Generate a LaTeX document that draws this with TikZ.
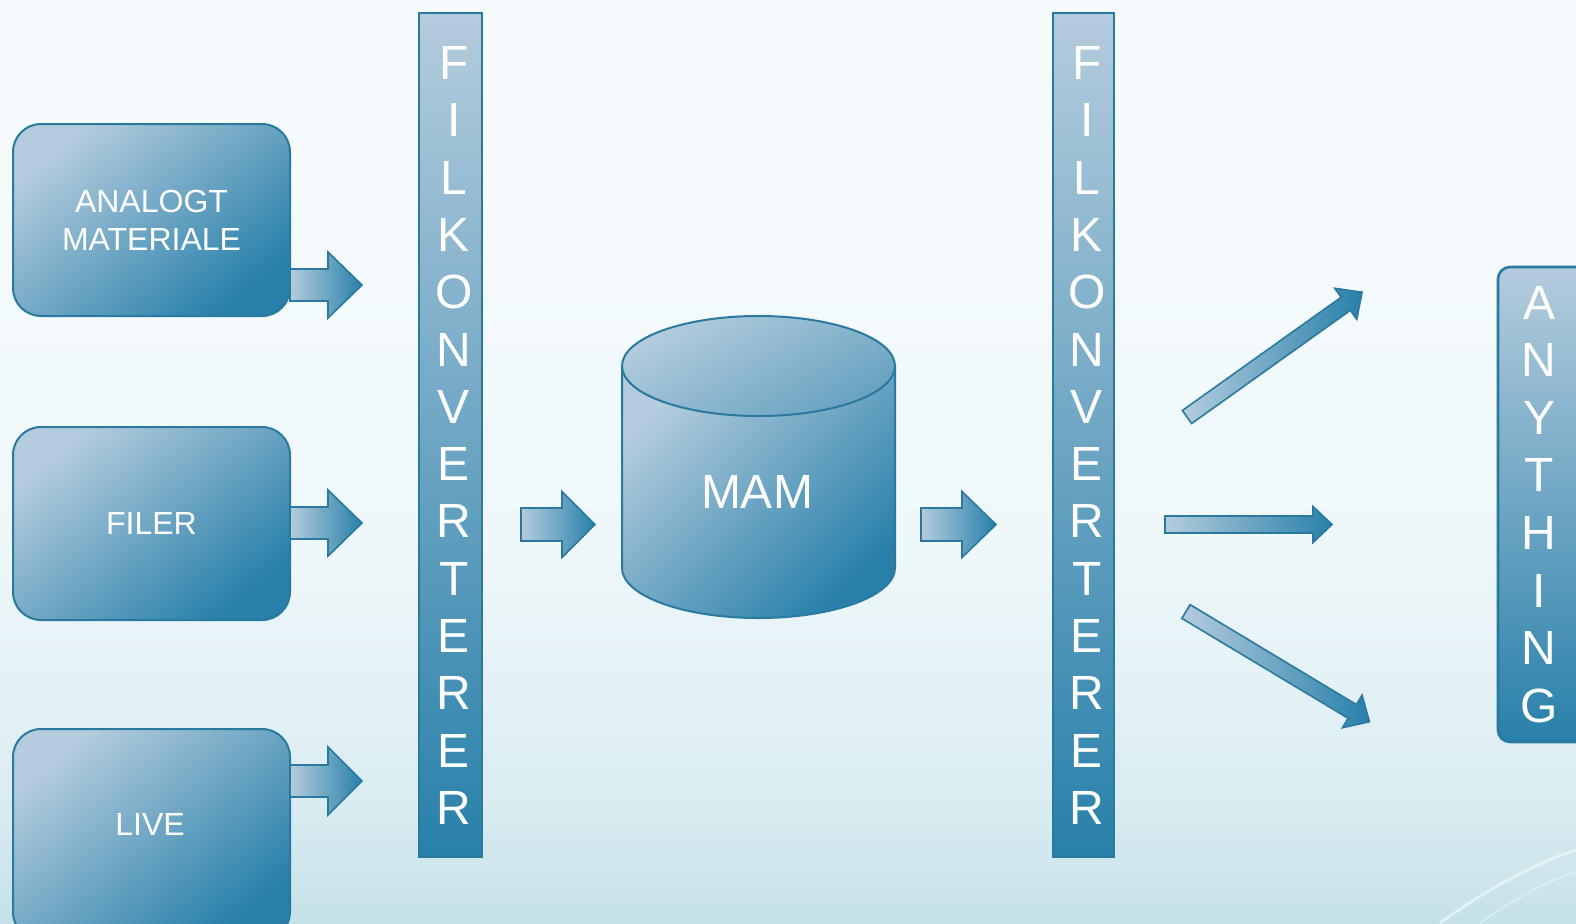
\documentclass[tikz,border=0pt]{standalone}
\usepackage{fontspec}
\setmainfont{Liberation Sans}
\definecolor{lt}{HTML}{B4CCDD}
\definecolor{dk}{HTML}{2880AA}
\definecolor{edge}{HTML}{2A7AA0}
\definecolor{bgtop}{HTML}{F6FBFD}
\definecolor{bgmid}{HTML}{EEF7FA}
\definecolor{bgbot}{HTML}{C4E1E8}
\pgfdeclareverticalshading{bgshade}{100bp}{color(0bp)=(bgbot); color(25bp)=(bgbot); color(32bp)=(bgbot!45!bgmid); color(45bp)=(bgmid); color(65bp)=(bgtop); color(100bp)=(bgtop)}
\newcommand\blkarrow[7]{%
  \begin{scope}[shift={(#1,#2)}, rotate=#3]
    \path[arrowfill] (0,-#6) -- ({#4-#5},-#6) -- ({#4-#5},-#7) -- (#4,0) -- ({#4-#5},#7) -- ({#4-#5},#6) -- (0,#6) -- cycle;
  \end{scope}}
\begin{document}
\begin{tikzpicture}[x=0.5pt,y=-0.5pt,
  box/.style={draw=edge, line width=1pt, rounded corners=14pt, top color=lt, bottom color=dk, shading angle=40, text=white, align=center, font=\fontsize{16}{19}\selectfont, inner sep=0pt},
  lbl/.style={text=white, align=center, font=\fontsize{16}{19}\selectfont, inner sep=0pt},
  bar/.style={draw=edge, line width=1.3pt, top color=lt, bottom color=dk, inner sep=0pt},
  lettr/.style={text=white, align=center, inner sep=0pt},
  cyl/.style={draw=edge, line width=1pt, top color=lt, bottom color=dk, shading angle=45},
  cyltop/.style={draw=edge, line width=1pt, top color=lt, bottom color=dk!55!lt, shading angle=30},
  arrowfill/.style={draw=edge, line width=0.8pt, left color=lt, right color=dk}]
\shade[shading=bgshade] (0,0) rectangle (1576,923);
\draw[white, opacity=0.5, line width=1.5pt] (1440,923) .. controls (1500,880) and (1545,860) .. (1576,850);
\draw[white, opacity=0.35, line width=1pt] (1480,923) .. controls (1520,895) and (1550,880) .. (1576,872);

% input boxes
\node[box, minimum width=138.5pt, minimum height=96pt] (ana) at (151.5,220) {ANALOGT\\MATERIALE};
\node[box, minimum width=138.5pt, minimum height=96.5pt] (fil) at (151.5,523.5) {FILER};
\node[box, minimum width=138.5pt, minimum height=105.5pt] (live) at (151.5,834.5) {};
\node[lbl] (livet) at (150,824) {LIVE};

% left arrows
\blkarrow{290}{285}{0}{72}{34}{16}{33}
\blkarrow{290}{523}{0}{72}{34}{16}{33}
\blkarrow{290}{781}{0}{72}{34}{16}{34}

% converter bars
\node[bar, minimum width=31.5pt, minimum height=422pt] (conv1) at (450.5,435) {};
\node[lettr, font=\fontsize{24}{28.65}\selectfont] (conv1t) at (454,435.5) {F\\I\\L\\K\\O\\N\\V\\E\\R\\T\\E\\R\\E\\R};
\node[bar, minimum width=30.5pt, minimum height=422pt] (conv2) at (1083.5,435) {};
\node[lettr, font=\fontsize{24}{28.65}\selectfont] (conv2t) at (1087,435.5) {F\\I\\L\\K\\O\\N\\V\\E\\R\\T\\E\\R\\E\\R};

% middle arrows
\blkarrow{521}{524.5}{0}{74}{33}{16.5}{33}
\blkarrow{921}{524.5}{0}{75}{34}{16.5}{33}

% cylinder
\shade[cyl] (622,366) -- (622,568) arc[start angle=180, end angle=0, x radius=136.5, y radius=50] -- (895,366) -- cycle;
\shade[cyltop] (758.5,366) ellipse[x radius=136.5, y radius=50];
\node[lettr, font=\fontsize{24}{28}\selectfont] (mam) at (757,492) {MAM};

% output arrows
\blkarrow{1187}{417}{35.5}{215}{20}{8}{19}
\blkarrow{1165}{524.5}{0}{167}{19}{8.5}{18}
\blkarrow{1186}{611.5}{-31}{214}{20}{8}{19}

% anything box
\node[bar, rounded corners=6pt, minimum width=56pt, minimum height=237.5pt] (anyb) at (1554,504.5) {};
\node[lettr, font=\fontsize{24}{28.8}\selectfont] (anyt) at (1539,504.5) {A\\N\\Y\\T\\H\\I\\N\\G};

\pgfresetboundingbox
\useasboundingbox (0,0) rectangle (1576,923);
\end{tikzpicture}
\end{document}
